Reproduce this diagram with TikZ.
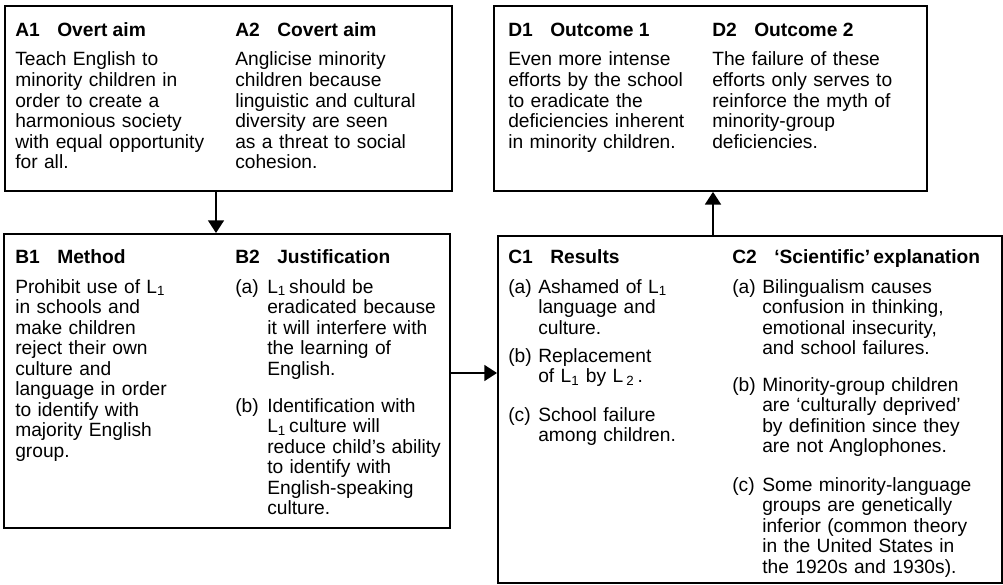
\documentclass[tikz,border=0pt]{standalone}
\usepackage{fontspec}
\setmainfont{Liberation Sans}
\usetikzlibrary{arrows.meta}
\newcommand{\Lsub}[1]{L\textsubscript{#1}}
\newcommand{\hd}[2]{\makebox[31.5pt][l]{#1}#2}
\begin{document}
\begin{tikzpicture}[x=0.75pt,y=-0.75pt,>={Triangle[width=12pt,length=9.5pt]},
	font={\fontsize{14.4}{15.4}\selectfont},
	box/.style={draw,line width=1.4pt,inner sep=0pt,anchor=north west},
	head/.style={anchor=base west,inner sep=0pt,font={\fontsize{14.4}{15.4}\selectfont\bfseries}},
	txt/.style={anchor=base west,inner sep=0pt,text width=175pt,align=left},
	lbl/.style={anchor=base west,inner sep=0pt}]
	\useasboundingbox (0,0) rectangle (1003,585);
	% boxes
	\node[box,minimum width=335.25pt,minimum height=138.75pt] (A) at (4,5) {};
	\node[box,minimum width=324.75pt,minimum height=138.75pt] (D) at (493,5) {};
	\node[box,minimum width=334.5pt,minimum height=220.5pt] (B) at (3,233) {};
	\node[box,minimum width=378pt,minimum height=260.5pt] (C) at (497,235) {};
	% A
	\node[head] (a1) at (15,37) {\hd{A1}{Overt aim}};
	\node[head] (a2) at (235,37) {\hd{A2}{Covert aim}};
	\node[txt] (a1t) at (15,66) {Teach English to\\minority children in\\order to create a\\harmonious society\\with equal opportunity\\for all.};
	\node[txt] (a2t) at (235,66) {Anglicise minority\\children because\\linguistic and cultural\\diversity are seen\\as a threat to social\\cohesion.};
	% D
	\node[head] (d1) at (508,37) {\hd{D1}{Outcome 1}};
	\node[head] (d2) at (712,37) {\hd{D2}{Outcome 2}};
	\node[txt] (d1t) at (508,66) {Even more intense\\efforts by the school\\to eradicate the\\deficiencies inherent\\in minority children.};
	\node[txt] (d2t) at (712,66) {The failure of these\\efforts only serves to\\reinforce the myth of\\minority-group\\deficiencies.};
	% B
	\node[head] (b1) at (15,263) {\hd{B1}{Method}};
	\node[head] (b2) at (235,263) {\hd{B2}{Justification}};
	\node[txt] (b1t) at (15,293) {Prohibit use of \Lsub{1}\\in schools and\\make children\\reject their own\\culture and\\language in order\\to identify with\\majority English\\group.};
	\node[lbl] (b2a) at (235,293) {(a)};
	\node[txt] (b2at) at (267,293) {\Lsub{1}\,should be\\eradicated because\\it will interfere with\\the learning of\\English.};
	\node[lbl] (b2b) at (235,412) {(b)};
	\node[txt] (b2bt) at (267,412) {Identification with\\\Lsub{1}\,culture will\\reduce child’s ability\\to identify with\\English-speaking\\culture.};
	% C
	\node[head] (c1) at (508,263) {\hd{C1}{Results}};
	\node[head] (c2) at (732,263) {\hd{C2}{‘Scientific’\,explanation}};
	\node[lbl] (c1a) at (508,293) {(a)};
	\node[txt] (c1at) at (538,293) {Ashamed of \Lsub{1}\\language and\\culture.};
	\node[lbl] (c1b) at (508,362) {(b)};
	\node[txt] (c1bt) at (538,362) {Replacement\\of \Lsub{1} by L\,\textsubscript{2}\,.};
	\node[lbl] (c1c) at (508,421) {(c)};
	\node[txt] (c1ct) at (538,421) {School failure\\among children.};
	\node[lbl] (c2a) at (732,293) {(a)};
	\node[txt] (c2at) at (762,293) {Bilingualism causes\\confusion in thinking,\\emotional insecurity,\\and school failures.};
	\node[lbl] (c2b) at (732,391) {(b)};
	\node[txt] (c2bt) at (762,391) {Minority-group children\\are ‘culturally deprived’\\by definition since they\\are not Anglophones.};
	\node[lbl] (c2c) at (732,491) {(c)};
	\node[txt] (c2ct) at (762,491) {Some minority-language\\groups are genetically\\inferior (common theory\\in the United States in\\the 1920s and 1930s).};
	% arrows
	\draw[->,line width=1.1pt] (A.south -| 216,0) -- (B.north -| 216,0);
	\draw[->,line width=1.1pt] (B.east |- 0,373) -- (C.west |- 0,373);
	\draw[->,line width=1.1pt] (C.north -| 713,0) -- (D.south -| 713,0);
\end{tikzpicture}
\end{document}
